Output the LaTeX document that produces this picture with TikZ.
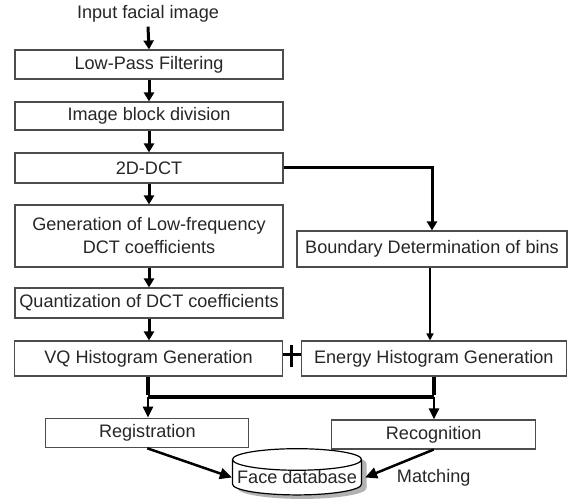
\documentclass[tikz,border=0pt]{standalone}
\usepackage{fontspec}
\setmainfont{Liberation Sans}
\usetikzlibrary{arrows.meta,shapes.geometric,shadows,calc}
\begin{document}
\begin{tikzpicture}[x=1pt,y=-1pt,
  every node/.style={font=\fontsize{18.1}{23}\selectfont, text=black!85, inner sep=0pt},
  procbox/.style={draw=black!70, line width=1.1pt, fill=white, minimum height=#1},
  procbox/.default=29,
  bigarrow/.style={line width=3pt, -{Triangle[width=10pt,length=9pt]}},
  thinarrow/.style={line width=1.6pt, -{Triangle[width=7pt,length=7pt]}},
  cyl/.style={cylinder, shape border rotate=90, aspect=0.18, draw=black, line width=1.2pt, fill=white,
    minimum width=129pt, minimum height=44pt,
    drop shadow={shadow xshift=5pt, shadow yshift=-4pt, fill=black!30, opacity=1}}
]
\useasboundingbox (0,0) rectangle (568,502);

\node (inp) at (148,14) {Input facial image};
\node[procbox, minimum width=268pt] (lpf) at (149,64.5) {Low-Pass Filtering};
\node[procbox=28, minimum width=268pt] (ibd) at (149,116) {Image block division};
\node[procbox=30, minimum width=268pt] (dct) at (149,168) {2D-DCT};
\node[procbox=62, minimum width=268pt, align=center] (gen) at (149,236) {Generation of Low-frequency\\DCT coefficients};
\node[procbox=30, minimum width=268pt] (qnt) at (149,303) {Quantization of DCT coefficients};
\node[procbox=35, minimum width=268pt] (vq) at (148.5,358.5) {VQ Histogram Generation};
\node[procbox=35, minimum width=265.5pt] (en) at (433.8,358.5) {Energy Histogram Generation};
\node[procbox=36, minimum width=270pt] (bnd) at (432,249) {Boundary Determination of bins};
\node[procbox=29.5, minimum width=203pt] (reg) at (147.3,433) {Registration};
\node[procbox=29, minimum width=204pt] (rec) at (433.7,434.5) {Recognition};
\node[cyl] (db) at (297,477.5) {Face database};
\node (mat) at (433.7,478) {Matching};

\draw[bigarrow] (inp.south) ++(0,4) -- (lpf.north);
\draw[bigarrow] (lpf) -- (ibd);
\draw[bigarrow] (ibd) -- (dct);
\draw[bigarrow] (dct) -- (gen);
\draw[bigarrow] (gen) -- (qnt);
\draw[bigarrow] (qnt) -- (vq.north -| qnt.south);

\draw[bigarrow] (dct.east) -| (bnd.north);
\draw[thinarrow] (bnd.south -| 430,0) -- (en.north -| 430,0);

\coordinate (pl) at ($(vq.east)!0.5!(en.west)$);
\draw[line width=3pt] (pl |- 0,345) -- (pl |- 0,367);
\draw[line width=3pt] (vq.east |- 0,355) -- (en.west |- 0,355);

\coordinate (jl) at (148,397.5);
\coordinate (jr) at (434,397.5);
\draw[line width=4pt] (vq.south -| jl) -- ([yshift=2pt]jl);
\draw[line width=4pt] (en.south -| jr) -- ([yshift=2pt]jr);
\draw[line width=4pt] (jl) -- (jr);
\draw[line width=2.4pt, -{Triangle[width=10pt,length=11pt]}] (jl) -- (reg.north -| jl);
\draw[line width=2.4pt, -{Triangle[width=10pt,length=11pt]}] (jr) -- (rec.north -| jr);

\draw[line width=2.5pt, -{Triangle[width=11pt,length=12pt]}] (reg.south) -- (db.west);
\draw[line width=2.5pt, -{Triangle[width=11pt,length=12pt]}] (rec.south) -- ([xshift=3pt]db.east);
\end{tikzpicture}
\end{document}
